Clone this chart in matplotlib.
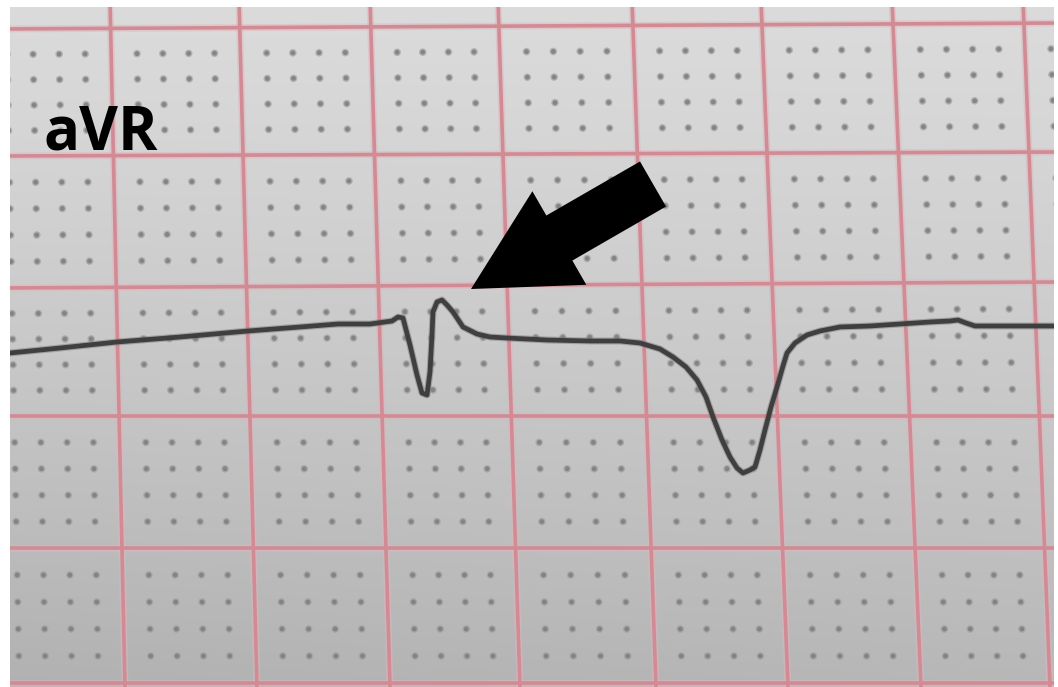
import numpy as np
import matplotlib
matplotlib.use("Agg")
import matplotlib.pyplot as plt
from matplotlib.patches import FancyArrow

# ---- data (pixel units) ----
lead_label = "aVR"
trace_x = [10, 60, 117, 180, 248, 300, 338, 370, 392, 398, 403, 410, 417, 422, 427,
           430, 432, 433, 437, 442, 447, 453, 463, 477, 490, 507, 547, 590, 620, 640,
           660, 673, 686, 697, 706, 713, 722, 730, 737, 743, 750, 755, 760, 765, 771,
           777, 783, 787, 795, 807, 820, 840, 870, 900, 930, 950, 958, 966, 975, 1000, 1054]
trace_y = [353, 348, 342, 337, 331, 327, 324, 324, 321, 317, 318, 345, 375, 393, 395,
           372, 335, 312, 302, 300, 305, 312, 327, 334, 337, 338, 340, 341, 341, 343,
           349, 357, 367, 380, 397, 417, 440, 457, 468, 473, 470, 467, 450, 430, 407,
           387, 366, 353, 343, 335, 331, 327, 326, 324, 322, 321, 320, 323, 326, 326, 326]

# paper grid (photo is slightly skewed)
vline_top = [-20, 110, 239, 370, 498, 632, 761, 892, 1023, 1153]
vline_bot = [-7, 125, 257, 390, 520, 656, 788, 921, 1050, 1182]
hline_left = [-100, 29, 156, 288, 416, 548, 683, 815]
hline_right = [-106, 23, 152, 282, 416, 548, 683, 815]

W, H = 1058, 687
X0, X1, Y0, Y1 = 10, 1054, 7, 687

fig = plt.figure(figsize=(W / 100, H / 100), dpi=100)
fig.patch.set_facecolor("white")
ax = fig.add_axes([X0 / W, 0, (X1 - X0) / W, (Y1 - Y0) / H])
ax.set_xlim(X0, X1)
ax.set_ylim(Y1, Y0)
ax.axis("off")

# background paper gradient
yy, xx = np.mgrid[Y0:Y1:4, X0:X1:4]
fy = (yy - Y0) / (Y1 - Y0)
fx = (xx - X0) / (X1 - X0)
val = 219 - 36 * fy ** 1.2 - 6 * (1 - fx) * fy
img = np.dstack([val, val, val]) / 255.0
ax.imshow(img, extent=(X0, X1, Y1, Y0), aspect="auto", zorder=0, interpolation="bilinear")


def grid_point(u, v):
    """map fractional grid coords (u col, v row) to pixels"""
    xt = np.interp(u, range(len(vline_top)), vline_top)
    xb = np.interp(u, range(len(vline_bot)), vline_bot)
    yl = np.interp(v, range(len(hline_left)), hline_left)
    yr = np.interp(v, range(len(hline_right)), hline_right)
    x, y = xt, yl
    for _ in range(4):
        x = xt + (xb - xt) * (y / H)
        y = yl + (yr - yl) * (x / W)
    return x, y


# dots
dx, dy = [], []
for i in range(len(vline_top) - 1):
    for j in range(len(hline_left) - 1):
        for a in range(1, 5):
            for b in range(1, 5):
                px, py = grid_point(i + a / 5, j + b / 5)
                dx.append(px)
                dy.append(py)
ax.scatter(dx, dy, s=30, color="#9a9a9a", edgecolors="none", zorder=1, alpha=0.6)
ax.scatter(dx, dy, s=12, color="#808080", edgecolors="none", zorder=1, alpha=0.9)

# major lines
vs = np.linspace(0, len(hline_left) - 1, 200)
us = np.linspace(0, len(vline_top) - 1, 200)
for lw, col, al in [(5.0, "#e2b4ba", 0.5), (2.6, "#d08b95", 1.0)]:
    for i in range(len(vline_top)):
        pts = [grid_point(i, v) for v in vs]
        ax.plot([p[0] for p in pts], [p[1] for p in pts], color=col, lw=lw, zorder=2,
                alpha=al, solid_capstyle="butt")
    for j in range(len(hline_left)):
        pts = [grid_point(u, j) for u in us]
        ax.plot([p[0] for p in pts], [p[1] for p in pts], color=col, lw=lw, zorder=2,
                alpha=al, solid_capstyle="butt")

# ECG trace
ax.plot(trace_x, trace_y, color="#7a7a7a", lw=5.0, zorder=3, alpha=0.5,
        solid_joinstyle="round", solid_capstyle="round")
ax.plot(trace_x, trace_y, color="#3a3a3a", lw=3.4, zorder=3,
        solid_joinstyle="round", solid_capstyle="round", alpha=0.95)

# arrow
tip = (471, 289)
tail = (653, 184)
arr = FancyArrow(tail[0], tail[1], tip[0] - tail[0], tip[1] - tail[1],
                 width=52, head_width=108, head_length=102,
                 length_includes_head=True, color="black", zorder=4, lw=0)
ax.add_patch(arr)

# label
ax.text(43, 150, lead_label, fontsize=43, fontweight="bold", family=["Open Sans", "DejaVu Sans"],
        color="black", ha="left", va="baseline", zorder=5)

fig.savefig("out.png", dpi=100)
